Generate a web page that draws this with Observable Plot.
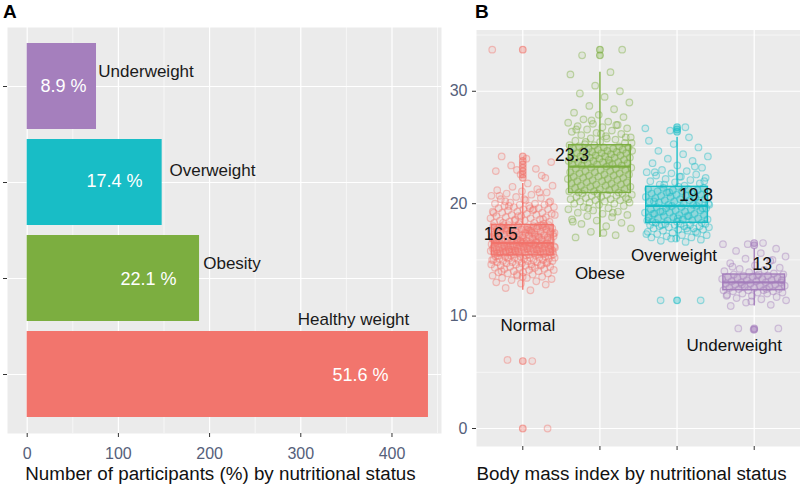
<!DOCTYPE html>
<html><head><meta charset="utf-8">
<script src="https://cdn.jsdelivr.net/npm/d3@7"></script>
<script src="https://cdn.jsdelivr.net/npm/@observablehq/plot@0.6"></script>
<style>
body{margin:0;background:#fff;}
#wrap{position:relative;width:800px;height:484px;font-family:"Liberation Sans",Arial,sans-serif;overflow:hidden;}
.letter{position:absolute;top:2px;font-weight:bold;font-size:19px;line-height:19px;color:#000;}
#pa{position:absolute;left:0;top:0;}
#pb{position:absolute;left:441px;top:0;}
</style></head><body>
<div id="wrap"><div id="pa"></div><div id="pb"></div><div class="letter" style="left:3px">A</div><div class="letter" style="left:475px">B</div></div>
<script>
// ---------- Panel A data ----------
const statusA = ["Underweight", "Overweight", "Obesity", "Healthy weight"];
const countsA = [76, 148, 189, 440];
const pctA = ["8.9 %", "17.4 %", "22.1 %", "51.6 %"];
const colorsA = ["#a57fbd", "#18bdc6", "#7cae40", "#f2756d"];
const xTicksA = [0, 100, 200, 300, 400];
const xMinorA = [50, 150, 250, 350, 450];
const titleA = "Number of participants (%) by nutritional status";

// ---------- Panel B data ----------
const groupsB = ["Normal", "Obese", "Overweight", "Underweight"];
const colorsB = ["#f2756d", "#7cae40", "#18bdc6", "#a57fbd"];
const q1B = [15.4, 20.95, 18.3, 12.3];
const medianB = [16.5, 23.3, 19.8, 13.0];
const q3B = [18.1, 25.2, 21.5, 13.7];
const whiskerLoB = [12.3, 17.0, 16.6, 10.9];
const whiskerHiB = [21.8, 31.7, 25.9, 16.0];
const medianLabelsB = ["16.5", "23.3", "19.8", "13"];
const outliersB = [
  [22.3, 22.6, 22.9, 23.2, 23.5, 23.8, 24.2, 33.7, 6.0, 0],
  [33.2, 33.7],
  [26.4, 26.6, 26.8, 11.4],
  [16.3, 16.5, 8.9, 8.8]
];
const yTicksB = [0, 10, 20, 30];
const yMinorB = [5, 15, 25, 35];
const titleB = "Body mass index by nutritional status";

const bmiNormal = [12.3,12.5,12.8,12.9,13.0,13.1,13.2,13.3,13.4,13.4,13.5,13.6,13.6,13.7,13.8,13.8,13.9,13.9,14.0,14.0,14.1,14.1,14.2,14.2,14.3,14.3,14.3,14.4,14.4,14.5,14.5,14.5,14.6,14.6,14.6,14.7,14.7,14.7,14.8,14.8,14.8,14.9,14.9,14.9,15.0,15.0,15.0,15.0,15.1,15.1,15.1,15.1,15.2,15.2,15.2,15.2,15.3,15.3,15.3,15.3,15.4,15.4,15.4,15.4,14.0,14.6,13.7,15.0,14.4,15.2,14.8,13.5,
15.4,15.5,15.5,15.5,15.5,15.6,15.6,15.6,15.6,15.6,15.7,15.7,15.7,15.7,15.7,15.8,15.8,15.8,15.8,15.8,15.9,15.9,15.9,15.9,15.9,16.0,16.0,16.0,16.0,16.0,16.0,16.1,16.1,16.1,16.1,16.1,16.2,16.2,16.2,16.2,16.2,16.3,16.3,16.3,16.3,16.3,16.4,16.4,16.4,16.4,16.4,16.5,16.5,16.5,16.5,15.6,15.9,16.2,15.8,16.0,16.3,15.5,15.7,16.1,16.4,15.9,16.0,16.2,15.6,16.3,15.8,16.1,16.5,15.7,16.4,
16.6,16.6,16.6,16.7,16.7,16.7,16.8,16.8,16.8,16.9,16.9,16.9,17.0,17.0,17.0,17.1,17.1,17.1,17.2,17.2,17.2,17.3,17.3,17.3,17.4,17.4,17.4,17.5,17.5,17.5,17.6,17.6,17.6,17.7,17.7,17.7,17.8,17.8,17.8,17.9,17.9,17.9,18.0,18.0,18.0,18.1,18.1,16.6,16.8,17.0,17.2,17.4,17.6,17.8,18.0,16.7,16.9,17.1,17.3,17.5,17.7,17.9,18.1,16.6,17.0,17.4,17.8,16.8,17.2,17.6,18.0,16.9,17.3,17.7,18.1,
18.2,18.2,18.3,18.3,18.4,18.4,18.5,18.5,18.6,18.6,18.7,18.7,18.8,18.8,18.9,18.9,19.0,19.0,19.1,19.1,19.2,19.2,19.3,19.3,19.4,19.4,19.5,19.5,19.6,19.6,19.7,19.7,19.8,19.8,19.9,19.9,20.0,20.0,20.1,20.2,20.3,20.4,20.5,20.6,20.7,20.8,20.9,21.0,21.1,21.2,21.3,21.5,21.6,21.8,18.3,18.6,18.9,19.2,19.5,19.8,20.1,20.4,20.7,21.0,18.5,19.0,19.6,20.2,
22.3,22.6,22.9,23.1,23.4,23.7,24.0,24.2,22.5,23.0,33.7,6.0,6.1,0];
const bmiObese = [17.0,17.2,17.5,17.8,18.0,18.2,18.3,18.5,18.6,18.8,18.9,19.0,19.1,19.2,19.3,19.4,19.5,19.6,19.7,19.8,19.9,20.0,20.0,20.1,20.1,20.2,20.2,20.3,20.3,20.4,20.4,20.5,20.5,20.6,20.6,20.7,20.7,20.8,20.8,20.9,20.9,20.9,18.4,19.2,19.6,20.4,17.4,
21.0,21.0,21.1,21.1,21.2,21.2,21.3,21.3,21.4,21.4,21.5,21.5,21.6,21.6,21.7,21.7,21.8,21.8,21.9,21.9,22.0,22.0,22.1,22.1,22.2,22.2,22.3,22.3,22.4,22.4,22.5,22.5,22.6,22.6,22.7,22.7,22.8,22.8,22.9,22.9,23.0,23.0,23.1,23.1,23.2,23.2,23.3,
23.4,23.4,23.5,23.5,23.5,23.6,23.6,23.7,23.7,23.7,23.8,23.8,23.9,23.9,23.9,24.0,24.0,24.1,24.1,24.1,24.2,24.2,24.3,24.3,24.3,24.4,24.4,24.5,24.5,24.5,24.6,24.6,24.7,24.7,24.7,24.8,24.8,24.9,24.9,24.9,25.0,25.0,25.1,25.1,25.2,25.2,23.6,
25.3,25.4,25.5,25.6,25.7,25.8,25.9,26.0,26.1,26.2,26.3,26.4,26.5,26.6,26.7,26.8,26.9,27.0,27.1,27.2,27.3,27.5,27.7,27.9,28.1,28.4,28.7,29.0,29.5,29.8,30.0,30.5,31.5,31.7,25.5,25.9,26.2,26.6,27.0,27.4,25.4,25.8,33.2,33.7];
const bmiOverweight = [16.6,16.7,16.8,16.9,17.0,17.0,17.1,17.2,17.2,17.3,17.4,17.4,17.5,17.6,17.6,17.7,17.7,17.8,17.8,17.9,17.9,18.0,18.0,18.0,18.1,18.1,18.1,18.2,18.2,18.2,18.3,17.5,16.9,17.3,17.8,18.1,
18.3,18.4,18.4,18.5,18.5,18.6,18.6,18.7,18.7,18.8,18.8,18.9,18.9,19.0,19.0,19.1,19.1,19.2,19.2,19.3,19.3,19.4,19.4,19.5,19.5,19.6,19.6,19.7,19.7,19.8,19.8,18.5,18.9,19.3,19.6,18.7,19.1,
19.9,19.9,20.0,20.0,20.1,20.1,20.2,20.2,20.3,20.3,20.4,20.4,20.5,20.5,20.6,20.6,20.7,20.7,20.8,20.8,20.9,20.9,21.0,21.0,21.1,21.1,21.2,21.2,21.3,21.3,21.4,21.4,21.5,20.2,20.6,21.0,19.9,
21.6,21.7,21.8,21.9,22.0,22.1,22.2,22.3,22.4,22.5,22.6,22.7,22.8,22.9,23.0,23.2,23.4,23.6,23.8,24.0,24.2,24.4,24.7,25.0,25.3,25.6,25.9,21.7,22.0,22.4,22.8,23.3,26.5,26.7,26.8,11.4,11.4];
const bmiUnderweight = [10.9,11.0,11.2,11.4,11.5,11.6,11.7,11.8,11.9,12.0,12.0,12.1,12.1,12.2,12.2,12.3,12.3,12.3,12.4,12.4,12.5,12.5,12.6,12.6,12.7,12.7,12.8,12.8,12.9,12.9,13.0,13.0,13.0,13.1,13.1,13.2,13.2,13.3,13.3,13.4,13.4,13.5,13.5,13.6,13.6,13.7,13.7,13.7,13.8,13.9,14.0,14.1,14.2,14.3,14.5,14.7,14.9,15.1,15.3,15.6,15.8,16.0,11.3,11.8,12.4,12.8,13.2,13.6,14.4,15.0,16.4,16.4,16.5,8.9,8.9,8.8];

// ---------- label layout (placement, not data) ----------
const pctLabelX = [39.8, 95.7, 133, 365.5];
const pctLabelDy = [0, -1.7, 0.7, 1];
const catLabelX = [78, 156, 193, 419];
const catLabelDy = [-15, -11.7, -15.3, -55];
const catLabelAnchor = ["start", "start", "start", "end"];
const medLabelDx = [-22, -28, 19, 8];
const medLabelDy = [-9, -11, -11, -18];
const grpLabelY = [9.12, 13.78, 15.4, 7.4];
const grpLabelDx = [5, 0, -3, -20];

const FONT = '"Liberation Sans", Arial, sans-serif';
const TICKTXT = "#55607a";
const PANEL = "#ebebeb";

// ---------- Panel A ----------
const barsA = statusA.map((s, i) => ({status: s, count: countsA[i]}));
const plotA = Plot.plot({
  width: 441, height: 484,
  marginLeft: 7, marginRight: 0, marginTop: 27, marginBottom: 51,
  style: {background: "transparent", fontFamily: FONT, fontSize: "16px", overflow: "visible"},
  x: {domain: [-21.6, 454.3]},
  y: {type: "band", domain: statusA, paddingInner: 0.1, paddingOuter: 0.15},
  color: {domain: statusA, range: colorsA},
  marks: [
    Plot.frame({fill: PANEL, stroke: "none"}),
    Plot.ruleX(xMinorA, {stroke: "white", strokeWidth: 0.6}),
    Plot.ruleX(xTicksA, {stroke: "white", strokeWidth: 1.2}),
    Plot.gridY({stroke: "white", strokeOpacity: 1, strokeWidth: 1.2}),
    Plot.barX(barsA, {x: "count", y: "status", fill: "status"}),
    ...statusA.map((s, i) => Plot.text([i], {
      x: [pctLabelX[i]], y: [s], text: [pctA[i]], dy: pctLabelDy[i],
      fill: "white", fontSize: 18, textAnchor: "middle"
    })),
    ...statusA.map((s, i) => Plot.text([i], {
      x: [catLabelX[i]], y: [s], text: [s], dy: catLabelDy[i],
      fill: "#1a1a1a", fontSize: 17, textAnchor: catLabelAnchor[i]
    })),
    Plot.axisX({ticks: xTicksA, tickSize: 4, tickFormat: () => "", color: "#333", label: null}),
    Plot.axisX({ticks: xTicksA, tickSize: 0, tickPadding: 14, color: TICKTXT, fontSize: 16, label: null}),
    Plot.axisY({tickSize: 4, tickFormat: () => "", color: "#333", label: null}),
    Plot.text([titleA], {text: d => d, frameAnchor: "bottom", lineAnchor: "middle", dy: 40, dx: -4, fontSize: 18.8, fill: "#111"})
  ]
});
document.getElementById("pa").appendChild(plotA);

// ---------- Panel B ----------
const jitter = k => ((((k + 1) * 0.6180339887) % 1) - 0.5) * 0.84;
const bmiB = [bmiNormal, bmiObese, bmiOverweight, bmiUnderweight];
const pointsB = bmiB.flatMap((arr, g) => arr.map((v, k) => ({group: groupsB[g], x: g + 1 + jitter(k + 17 * g), v})));
const outPtsB = outliersB.flatMap((arr, g) => arr.map(v => ({group: groupsB[g], x: g + 1, v})));
const boxB = groupsB.map((g, i) => ({group: g, i: i + 1, q1: q1B[i], med: medianB[i], q3: q3B[i], lo: whiskerLoB[i], hi: whiskerHiB[i]}));

const plotB = Plot.plot({
  width: 359, height: 484,
  marginLeft: 35, marginRight: 0, marginTop: 29.5, marginBottom: 38,
  style: {background: "transparent", fontFamily: FONT, fontSize: "16px", overflow: "visible"},
  x: {domain: [0.4, 4.6]},
  y: {domain: [-1.6, 35.45]},
  color: {domain: groupsB, range: colorsB},
  marks: [
    Plot.frame({fill: PANEL, stroke: "none"}),
    Plot.ruleY(yMinorB, {stroke: "white", strokeWidth: 0.6}),
    Plot.ruleY(yTicksB, {stroke: "white", strokeWidth: 1.2}),
    Plot.ruleX([1, 2, 3, 4], {stroke: "white", strokeWidth: 1.2}),
    Plot.ruleX(boxB, {x: "i", y1: "lo", y2: "q1", stroke: "group", strokeWidth: 1.4}),
    Plot.ruleX(boxB, {x: "i", y1: "q3", y2: "hi", stroke: "group", strokeWidth: 1.4}),
    Plot.rect(boxB, {x1: d => d.i - 0.4, x2: d => d.i + 0.4, y1: "q1", y2: "q3", fill: "group", fillOpacity: 0.35, stroke: "group", strokeWidth: 1.4}),
    Plot.ruleY(boxB, {y: "med", x1: d => d.i - 0.4, x2: d => d.i + 0.4, stroke: "group", strokeWidth: 2.2}),
    Plot.dot(pointsB, {x: "x", y: "v", r: 3.3, stroke: "group", strokeOpacity: 0.42, strokeWidth: 1.2, fill: "group", fillOpacity: 0.1}),
    Plot.dot(outPtsB, {x: "x", y: "v", r: 3.3, stroke: "group", strokeOpacity: 0.6, strokeWidth: 1.2, fill: "group", fillOpacity: 0.35}),
    ...groupsB.map((g, i) => Plot.text([i], {
      x: [i + 1], y: [medianB[i]], text: [medianLabelsB[i]], dx: medLabelDx[i], dy: medLabelDy[i],
      fill: "#111", fontSize: 17.5, textAnchor: "middle"
    })),
    ...groupsB.map((g, i) => Plot.text([i], {
      x: [i + 1], y: [grpLabelY[i]], text: [g], dx: grpLabelDx[i],
      fill: "#111", fontSize: 17, textAnchor: "middle"
    })),
    Plot.axisY({ticks: yTicksB, tickSize: 4, tickFormat: () => "", color: "#333", label: null}),
    Plot.axisY({ticks: yTicksB, tickSize: 0, tickPadding: 9, color: TICKTXT, fontSize: 16, label: null}),
    Plot.axisX({ticks: [1, 2, 3, 4], tickSize: 4, tickFormat: () => "", color: "#333", label: null}),
    Plot.text([titleB], {text: d => d, frameAnchor: "bottom", lineAnchor: "middle", dy: 27, dx: -7, fontSize: 18.8, fill: "#111"})
  ]
});
document.getElementById("pb").appendChild(plotB);
</script>
</body></html>
